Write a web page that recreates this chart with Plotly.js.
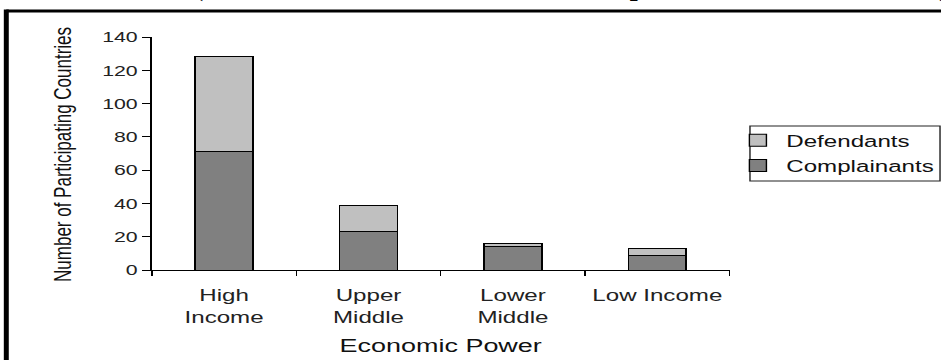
<!DOCTYPE html>
<html>
<head>
<meta charset="utf-8">
<script src="https://cdn.plot.ly/plotly-3.0.1.min.js"></script>
<style>
  html, body { margin:0; padding:0; background:#fff; overflow:hidden; }
  #wrap { width:941px; height:360px; overflow:hidden; position:relative; }
  #chart { width:663px; height:360px; transform:scaleX(1.41931); transform-origin:0 0; }
</style>
</head>
<body>
<div id="wrap"><div id="chart"></div></div>
<script>
// ---- data ----
const categories = ['High<br>Income', 'Upper<br>Middle', 'Lower<br>Middle', 'Low Income'];
const complainants = [71, 23, 14, 9];
const defendants = [57, 16, 2, 4];
const seriesNames = ['Complainants', 'Defendants'];
const yTicks = [0, 20, 40, 60, 80, 100, 120, 140];
const titleText = '(Number of WTO Members as Complainants and Defendants)';
const xTitle = 'Economic Power';
const yTitle = 'Number of Participating Countries';

const K = 941 / 663;
const SANS = 'Liberation Sans, Arial, sans-serif';

const traces = [
  { type:'bar', name:seriesNames[0], x:categories, y:complainants, width:0.4,
    marker:{ color:'#808080', line:{ color:'#000', width:1 } } },
  { type:'bar', name:seriesNames[1], x:categories, y:defendants, width:0.4,
    marker:{ color:'#c0c0c0', line:{ color:'#000', width:1 } } }
];

const layout = {
  width:663, height:360,
  margin:{ l:107, r:149, t:37, b:90, pad:0, autoexpand:false },
  paper_bgcolor:'#fff', plot_bgcolor:'#fff',
  barmode:'stack',
  showlegend:true,
  legend:{ x:1.0, xanchor:'left', y:0.632, yanchor:'top', traceorder:'reversed',
           bgcolor:'rgba(0,0,0,0)', borderwidth:0,
           font:{ family:SANS, size:17, color:'#111' } },
  xaxis:{ type:'category', range:[-0.5, 3.5], showline:true, linecolor:'#000', linewidth:1,
          ticks:'outside', tickson:'boundaries', ticklen:5, tickcolor:'#000', tickwidth:1,
          tickangle:0, ticklabelstandoff:10,
          showgrid:false, zeroline:false, automargin:false,
          tickfont:{ family:SANS, size:17, color:'#222' },
          title:{ text:xTitle, font:{ family:SANS, size:19, color:'#111' }, standoff:12 } },
  yaxis:{ range:[0, 140], tickvals:yTicks, showline:true, linecolor:'#000', linewidth:1,
          ticks:'outside', ticklen:6, tickcolor:'#000', tickwidth:1,
          showgrid:false, zeroline:false, automargin:false,
          tickfont:{ family:SANS, size:15, color:'#222' } },
  annotations:[
    { text:titleText, xref:'paper', yref:'paper', x:0.725, y:1.142, xanchor:'center', yanchor:'bottom',
      showarrow:false, font:{ family:'Liberation Serif, Times New Roman, serif', size:28.4, color:'#000', weight:'bold' } },
    { text:yTitle, xref:'paper', yref:'paper', x:-0.1523, y:0.4936, xanchor:'center', yanchor:'middle',
      textangle:-90, showarrow:false, font:{ family:SANS, size:17, color:'#111' } }
  ],
  shapes:[
    { type:'line', xref:'paper', yref:'paper', x0:-0.252, x1:1.38, y0:1.1116, y1:1.1116,
      line:{ color:'#000', width:3 } },
    { type:'line', xref:'paper', yref:'paper', x0:-0.252, x1:-0.252, y0:1.118, y1:-0.41,
      line:{ color:'#000', width:3.5 } },
    { type:'rect', xref:'paper', yref:'paper', x0:1.0354, x1:1.3644, y0:0.382, y1:0.618,
      line:{ color:'#222', width:1 }, fillcolor:'rgba(0,0,0,0)' }
  ]
};

Plotly.newPlot('chart', traces, layout, { displayModeBar:false, staticPlot:true }).then(function(gd){
  // the main title is a caption that is not horizontally stretched: undo the stretch on it
  const t = gd.querySelector('g.annotation[data-index="0"] text.annotation-text');
  if (t) {
    const bb = t.getBBox();
    const cx = bb.x + bb.width / 2;
    const prev = t.getAttribute('transform') || '';
    t.setAttribute('transform', prev + ' translate(' + cx + ',0) scale(' + (1 / K) + ',1) translate(' + (-cx) + ',0)');
  }
});
</script>
</body>
</html>
